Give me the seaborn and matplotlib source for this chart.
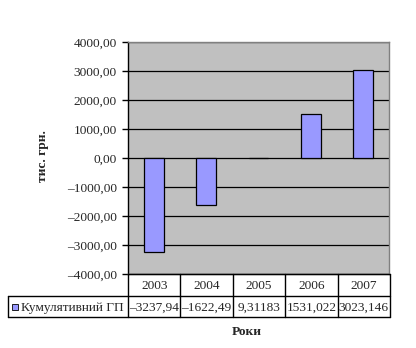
import matplotlib
matplotlib.use("Agg")
import matplotlib.pyplot as plt
from matplotlib.patches import Rectangle
from matplotlib.ticker import FuncFormatter, MultipleLocator
import seaborn as sns
import pandas as pd

years = ["2003", "2004", "2005", "2006", "2007"]
values = [-3237.94, -1622.49, 9.31183, 1531.022, 3023.146]
value_labels = ["–3237,94", "–1622,49", "9,31183", "1531,022", "3023,146"]
series_name = "Кумулятивний ГП"
y_label = "тис. грн."
x_label = "Роки"

sns.set_style("white")
plt.rcParams["font.family"] = ["Liberation Serif", "DejaVu Serif"]
FS = 9.6

W, H = 416, 348
fig = plt.figure(figsize=(W / 100, H / 100), dpi=100)
L, R, T, B = 128, 389, 42, 274
ax = fig.add_axes([L / W, 1 - B / H, (R - L) / W, (B - T) / H])

df = pd.DataFrame({"year": years, "value": values})
sns.barplot(data=df, x="year", y="value", color="#9999FF", edgecolor="black",
            linewidth=0.9, width=0.38, saturation=1, ax=ax, zorder=3)

ax.set_facecolor("#C0C0C0")
ax.set_xlim(-0.5, len(years) - 0.5)
ax.set_ylim(-4000, 4000)
ax.yaxis.set_major_locator(MultipleLocator(1000))
ax.yaxis.set_major_formatter(FuncFormatter(
    lambda v, p: ("–" if v < 0 else "") + f"{abs(v):.2f}".replace(".", ",")))
ax.grid(axis="y", color="black", linewidth=0.9, zorder=1)
ax.set_axisbelow(True)
ax.set_xticks([])
ax.set_xlabel("")
ax.set_ylabel("")
for s in ["top", "right", "bottom"]:
    ax.spines[s].set_color("#808080")
    ax.spines[s].set_linewidth(1.0)
ax.spines["left"].set_color("black")
ax.spines["left"].set_linewidth(1.0)
ax.tick_params(axis="y", direction="out", length=4, width=1, color="black",
               pad=4, labelsize=FS, left=True)
for s in ax.spines.values():
    s.set_zorder(5)

def fx(px):
    return px / W

def fy(py):
    return 1 - py / H

col_edges = [L + i * (R + 1 - L) / len(years) for i in range(len(years) + 1)]
row_top, row_mid, row_bot = 274, 296, 317
tbl_left = 8
lw = 1.0
fig.add_artist(plt.Line2D([fx(L), fx(R + 1)], [fy(row_top)] * 2, color="black", lw=lw))
fig.add_artist(plt.Line2D([fx(tbl_left), fx(R + 1)], [fy(row_mid)] * 2, color="black", lw=lw))
fig.add_artist(plt.Line2D([fx(tbl_left), fx(R + 1)], [fy(row_bot)] * 2, color="black", lw=lw))
fig.add_artist(plt.Line2D([fx(tbl_left)] * 2, [fy(row_mid), fy(row_bot)], color="black", lw=lw))
for e in col_edges:
    fig.add_artist(plt.Line2D([fx(e)] * 2, [fy(row_top), fy(row_bot)], color="black", lw=lw))
for i, yr in enumerate(years):
    cx = (col_edges[i] + col_edges[i + 1]) / 2
    fig.text(fx(cx), fy((row_top + row_mid) / 2 + 1), yr, ha="center", va="center", fontsize=FS)
    fig.text(fx(cx), fy((row_mid + row_bot) / 2 + 1), value_labels[i], ha="center", va="center", fontsize=FS)
fig.add_artist(Rectangle((fx(12), fy(310)), 6 / W, 6 / H, facecolor="#9999FF",
                         edgecolor="black", lw=0.6))
fig.text(fx(21), fy((row_mid + row_bot) / 2 + 1), series_name, ha="left", va="center", fontsize=FS)

fig.text(fx(43), fy(156), y_label, rotation=90, ha="center", va="center",
         fontsize=FS, fontweight="bold")
fig.text(fx(247), fy(332), x_label, ha="center", va="center",
         fontsize=FS, fontweight="bold")

fig.savefig("out.png", dpi=100)
